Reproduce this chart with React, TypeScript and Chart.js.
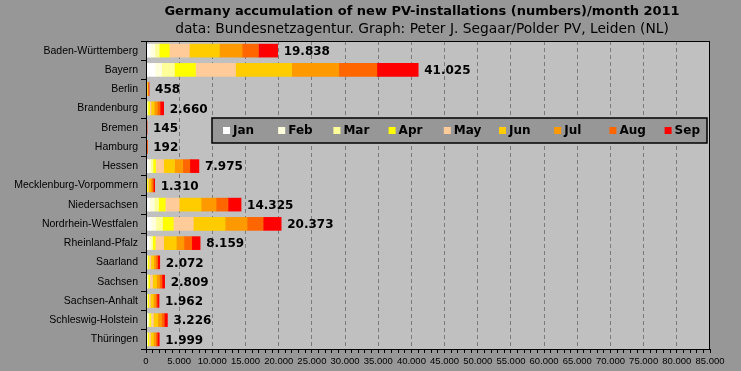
import React, { useEffect, useRef } from 'react';
import { Chart, registerables } from 'chart.js';

Chart.register(...registerables);

const states = [
  'Baden-Württemberg', 'Bayern', 'Berlin', 'Brandenburg', 'Bremen', 'Hamburg', 'Hessen',
  'Mecklenburg-Vorpommern', 'Niedersachsen', 'Nordrhein-Westfalen', 'Rheinland-Pfalz',
  'Saarland', 'Sachsen', 'Sachsen-Anhalt', 'Schleswig-Holstein', 'Thüringen',
];
const months = ['Jan', 'Feb', 'Mar', 'Apr', 'May', 'Jun', 'Jul', 'Aug', 'Sep'];
const monthColors = ['#FFFFFF', '#FFFFDD', '#FFFF99', '#FFFF00', '#FFCC99', '#FFCC00', '#FF9900', '#FF6600', '#FF0000'];

const jan = [650, 1360, 20, 60, 8, 10, 350, 40, 500, 750, 400, 80, 90, 60, 160, 70];
const feb = [700, 1010, 20, 90, 8, 10, 350, 50, 750, 750, 350, 90, 110, 80, 150, 80];
const mar = [650, 1910, 30, 150, 10, 12, 350, 60, 650, 1000, 250, 110, 140, 100, 170, 100];
const apr = [1510, 3170, 40, 250, 12, 15, 400, 110, 1000, 1610, 400, 180, 220, 170, 250, 170];
const may = [3020, 6040, 50, 200, 15, 20, 1200, 120, 2100, 3020, 1260, 270, 420, 250, 380, 260];
const jun = [4530, 8460, 90, 500, 25, 35, 1650, 280, 3295, 4783, 1910, 440, 600, 450, 680, 440];
const jul = [3430, 7100, 70, 450, 20, 30, 1250, 250, 2260, 3320, 1160, 320, 450, 330, 550, 330];
const aug = [2460, 5740, 60, 420, 22, 28, 1060, 200, 1810, 2420, 1160, 260, 380, 240, 420, 250];
const sep = [2888, 6235, 78, 540, 25, 32, 1365, 200, 1960, 2720, 1269, 322, 399, 282, 466, 299];
const totals = [19838, 41025, 458, 2660, 145, 192, 7975, 1310, 14325, 20373, 8159, 2072, 2809, 1962, 3226, 1999];

const series = [jan, feb, mar, apr, may, jun, jul, aug, sep];
const xMax = 85000;
const majorStep = 5000;
const minorStep = 1000;

const titleText = 'Germany accumulation of new PV-installations (numbers)/month 2011';
const subtitleText = 'data: Bundesnetzagentur. Graph: Peter J. Segaar/Polder PV, Leiden (NL)';

function fmt(v: number): string {
  const s = String(Math.round(v));
  return s.replace(/\B(?=(\d{3})+(?!\d))/g, '.');
}

const OUTER_BG = '#979797';
const PLOT_BG = '#C0C0C0';

const bgPlugin = {
  id: 'bg',
  beforeDraw(chart: any) {
    const { ctx, width, height, chartArea } = chart;
    ctx.save();
    ctx.fillStyle = OUTER_BG;
    ctx.fillRect(0, 0, width, height);
    ctx.fillStyle = PLOT_BG;
    ctx.fillRect(chartArea.left, chartArea.top, chartArea.right - chartArea.left, chartArea.bottom - chartArea.top);
    ctx.restore();
  },
};

const overlayPlugin = {
  id: 'overlay',
  afterDraw(chart: any) {
    const { ctx, chartArea } = chart;
    const xs = chart.scales.x;
    const ys = chart.scales.y;
    ctx.save();
    // frame
    ctx.strokeStyle = '#000';
    ctx.lineWidth = 1;
    ctx.strokeRect(Math.round(chartArea.left) + 0.5, Math.round(chartArea.top) + 0.5,
      Math.round(chartArea.right - chartArea.left) - 1, Math.round(chartArea.bottom - chartArea.top));

    // totals
    ctx.fillStyle = '#000';
    ctx.font = 'bold 12px "DejaVu Sans"';
    ctx.textAlign = 'left';
    ctx.textBaseline = 'middle';
    totals.forEach((t, i) => {
      const x = xs.getPixelForValue(t) + 6;
      const y = ys.getPixelForValue(i) + 1;
      ctx.fillText(fmt(t), x, y);
    });

    // title
    const cx = (chartArea.left + chartArea.right) / 2 - 6;
    ctx.textAlign = 'center';
    ctx.font = 'bold 13px "DejaVu Sans"';
    ctx.fillText(titleText, cx, 12);
    ctx.font = '13.8px "DejaVu Sans"';
    ctx.fillText(subtitleText, cx, 29);

    // legend
    const lx = 212, ly = 118, lw = 495, lh = 25;
    ctx.fillStyle = OUTER_BG;
    ctx.fillRect(lx, ly, lw, lh);
    ctx.strokeStyle = '#000';
    ctx.lineWidth = 1.5;
    ctx.strokeRect(lx, ly, lw, lh);
    ctx.font = 'bold 12px "DejaVu Sans"';
    ctx.textAlign = 'left';
    ctx.textBaseline = 'middle';
    months.forEach((m, i) => {
      const mx = lx + 11 + i * 55.2;
      const my = ly + lh / 2;
      ctx.fillStyle = monthColors[i];
      ctx.fillRect(mx, my - 3.5, 7, 7);
      ctx.fillStyle = '#000';
      ctx.fillText(m, mx + 10, my);
    });
    ctx.restore();
  },
};

export default function App() {
  const ref = useRef<HTMLCanvasElement>(null);
  useEffect(() => {
    document.body.style.margin = '0';
    const chart = new Chart(ref.current as HTMLCanvasElement, {
      type: 'bar',
      data: {
        labels: states,
        datasets: months.map((m, i) => ({
          label: m,
          data: series[i],
          backgroundColor: monthColors[i],
          borderWidth: 0,
          barThickness: 13,
        })),
      },
      options: {
        indexAxis: 'y',
        responsive: false,
        maintainAspectRatio: false,
        animation: false,
        layout: { padding: { top: 41, right: 31, bottom: 0, left: 0 } },
        plugins: {
          legend: { display: false },
          tooltip: { enabled: false },
          title: { display: false },
        },
        scales: {
          x: {
            stacked: true,
            min: 0,
            max: xMax,
            afterFit: (s: any) => { s.height = 22; },
            ticks: {
              stepSize: minorStep,
              autoSkip: false,
              maxRotation: 0,
              minRotation: 0,
              maxTicksLimit: 200,
              color: '#000',
              padding: 3,
              font: { family: 'Liberation Sans', size: 9.5 },
              callback: (v: any) => (Number(v) % majorStep === 0 ? fmt(Number(v)) : ''),
            },
            grid: {
              color: (c: any) => {
                const v = c.tick ? c.tick.value : 0;
                return v > 0 && v < xMax && v % majorStep === 0 ? '#7a7a7a' : 'rgba(0,0,0,0)';
              },
              tickColor: '#000',
              tickLength: 4,
              lineWidth: 1,
            },
            border: { color: '#000', width: 1, dash: [4, 3] },
          },
          y: {
            stacked: true,
            afterFit: (s: any) => { s.width = 146; },
            ticks: {
              color: '#000',
              padding: 3,
              font: { family: 'Liberation Sans', size: 10.5 },
            },
            grid: {
              drawOnChartArea: false,
              tickColor: '#000',
              tickLength: 5,
              offset: true,
            },
            border: { color: '#000', width: 1 },
          },
        },
      } as any,
      plugins: [bgPlugin, overlayPlugin],
    });
    return () => chart.destroy();
  }, []);
  return (
    <div style={{ width: 741, height: 371 }}>
      <canvas ref={ref} width={741} height={371} style={{ display: 'block', width: 741, height: 371 }} />
    </div>
  );
}
